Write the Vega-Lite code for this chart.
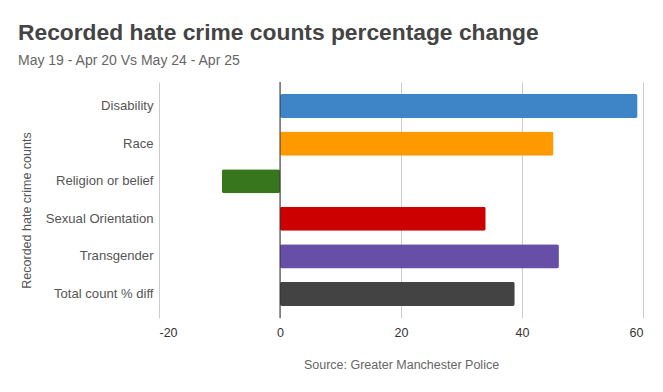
{
  "$schema": "https://vega.github.io/schema/vega-lite/v6.json",
  "autosize": {"type": "none"},
  "width": 484,
  "height": 236,
  "padding": {"left": 159, "top": 82, "right": 20, "bottom": 74},
  "background": "white",
  "title": {
    "text": "Recorded hate crime counts percentage change",
    "subtitle": "May 19 - Apr 20 Vs May 24 - Apr 25",
    "anchor": "start",
    "frame": "group",
    "dx": -141,
    "offset": 14,
    "font": "Liberation Sans",
    "fontSize": 22.8,
    "fontWeight": "bold",
    "color": "#444444",
    "subtitleFont": "Liberation Sans",
    "subtitleFontSize": 14,
    "subtitleColor": "#666666",
    "subtitlePadding": 9
  },
  "config": {
    "view": {"stroke": null},
    "font": "Liberation Sans"
  },
  "layer": [
    {
      "data": {
        "values": [
          {"category": "Disability", "change": 59.1},
          {"category": "Race", "change": 45.2},
          {"category": "Religion or belief", "change": -9.6},
          {"category": "Sexual Orientation", "change": 34.0},
          {"category": "Transgender", "change": 46.1},
          {"category": "Total count % diff", "change": 38.8}
        ]
      },
      "mark": {"type": "bar", "cornerRadius": 2},
      "encoding": {
        "y": {
          "field": "category",
          "type": "nominal",
          "sort": null,
          "scale": {"paddingInner": 0.36, "paddingOuter": 0.32},
          "axis": {
            "title": "Recorded hate crime counts",
            "titleFont": "Liberation Sans",
            "titleFontSize": 12.5,
            "titleFontWeight": "normal",
            "titleColor": "#555555",
            "titlePadding": 12,
            "titleY": 128,
            "labelFont": "Liberation Sans",
            "labelFontSize": 13.1,
            "labelColor": "#555555",
            "labelPadding": 6,
            "ticks": false,
            "domain": false,
            "grid": false
          }
        },
        "x": {
          "field": "change",
          "type": "quantitative",
          "scale": {"domain": [-20, 60], "nice": false, "zero": false},
          "axis": {
            "values": [-20, 0, 20, 40, 60],
            "labelExpr": "'' + datum.value",
            "title": "Source: Greater Manchester Police",
            "titleFont": "Liberation Sans",
            "titleFontSize": 12.5,
            "titleFontWeight": "normal",
            "titleColor": "#666666",
            "titlePadding": 20,
            "labelFont": "Liberation Sans",
            "labelFontSize": 12.5,
            "labelColor": "#333333",
            "labelPadding": 8,
            "ticks": false,
            "domain": false,
            "grid": true,
            "gridColor": "#cccccc",
            "gridWidth": 1
          }
        },
        "color": {
          "field": "category",
          "type": "nominal",
          "scale": {
            "domain": ["Disability", "Race", "Religion or belief", "Sexual Orientation", "Transgender", "Total count % diff"],
            "range": ["#3d85c6", "#ff9900", "#38761d", "#cc0000", "#674ea7", "#434343"]
          },
          "legend": null
        }
      }
    },
    {
      "data": {"values": [{"zero": 0}]},
      "mark": {"type": "rule", "color": "#333333", "strokeWidth": 1},
      "encoding": {
        "x": {"field": "zero", "type": "quantitative"}
      }
    }
  ]
}
